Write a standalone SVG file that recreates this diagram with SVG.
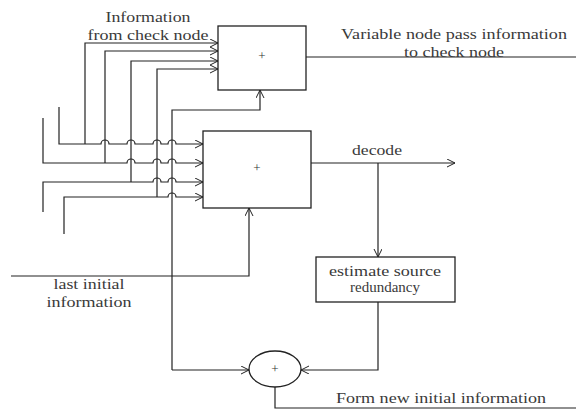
<svg xmlns="http://www.w3.org/2000/svg" width="576" height="412" viewBox="0 0 576 412">
<defs>
<marker id="arr" markerUnits="userSpaceOnUse" markerWidth="10" markerHeight="10" refX="8" refY="4" orient="auto">
<path d="M0,0 L8,4 L0,8" fill="none" stroke="#222" stroke-width="1"/>
</marker>
<style>
.ln{fill:none;stroke:#222;stroke-width:1.2}
.bx{fill:#fff;stroke:#222;stroke-width:1.3}
.t{font-size:14px;fill:#3a3a3a;text-anchor:middle}
.p{font-size:13px;fill:#333;text-anchor:middle}
</style>
</defs>
<rect width="576" height="412" fill="#fff"/>
<g id="connectors">
<path class="ln" d="M85 144 V43 H218" marker-end="url(#arr)"/>
<path class="ln" d="M105 163 V51 H218" marker-end="url(#arr)"/>
<path class="ln" d="M131 182 V61 H218" marker-end="url(#arr)"/>
<path class="ln" d="M157 197 V69 H218" marker-end="url(#arr)"/>
<path class="ln" d="M59 107 V144 H101 A4 4 0 0 1 109 144 H127 A4 4 0 0 1 135 144 H153 A4 4 0 0 1 161 144 H168 A4 4 0 0 1 176 144 H203" marker-end="url(#arr)"/>
<path class="ln" d="M43 118 V163 H127 A4 4 0 0 1 135 163 H153 A4 4 0 0 1 161 163 H168 A4 4 0 0 1 176 163 H203" marker-end="url(#arr)"/>
<path class="ln" d="M43 212 V182 H153 A4 4 0 0 1 161 182 H168 A4 4 0 0 1 176 182 H203" marker-end="url(#arr)"/>
<path class="ln" d="M64 234 V197 H168 A4 4 0 0 1 176 197 H203" marker-end="url(#arr)"/>
<path class="ln" d="M172 370 V110 H260 V90" marker-end="url(#arr)"/>
<path class="ln" d="M172 370 H249" marker-end="url(#arr)"/>
<path class="ln" d="M11 276 H249 V208" marker-end="url(#arr)"/>
<path class="ln" d="M306 57 H576"/>
<path class="ln" d="M311 163 H455" marker-end="url(#arr)"/>
<path class="ln" d="M378 163 V257" marker-end="url(#arr)"/>
<path class="ln" d="M378 302 V370 H301" marker-end="url(#arr)"/>
<path class="ln" d="M275 387 V408 H576"/>
</g>
<g id="top-box" font-family="Liberation Serif, serif">
<rect class="bx" x="218" y="26" width="88" height="64"/>
<text class="p" x="262" y="60">+</text>
</g>
<g id="bottom-box" font-family="Liberation Serif, serif">
<rect class="bx" x="203" y="131" width="108" height="77"/>
<text class="p" x="257" y="172">+</text>
</g>
<g id="estimate" font-family="Liberation Serif, serif">
<rect class="bx" x="316" y="257" width="139" height="45"/>
<text class="t" x="385" y="276" textLength="112" lengthAdjust="spacingAndGlyphs">estimate source</text>
<text class="t" x="385" y="292" textLength="70" lengthAdjust="spacingAndGlyphs">redundancy</text>
</g>
<g id="sum" font-family="Liberation Serif, serif">
<ellipse class="bx" cx="275" cy="369" rx="26" ry="18"/>
<text class="p" x="275" y="373">+</text>
</g>
<g id="labels" font-family="Liberation Serif, serif">
<text class="t" x="148" y="22" textLength="85" lengthAdjust="spacingAndGlyphs">Information</text>
<text class="t" x="148" y="40" textLength="121" lengthAdjust="spacingAndGlyphs">from check node</text>
<text class="t" x="454" y="39" textLength="226" lengthAdjust="spacingAndGlyphs">Variable node pass information</text>
<text class="t" x="454" y="57" textLength="100" lengthAdjust="spacingAndGlyphs">to check node</text>
<text class="t" x="377" y="155" textLength="50" lengthAdjust="spacingAndGlyphs">decode</text>
<text class="t" x="89" y="289" textLength="71" lengthAdjust="spacingAndGlyphs">last initial</text>
<text class="t" x="89" y="307" textLength="85" lengthAdjust="spacingAndGlyphs">information</text>
<text class="t" x="441" y="403" textLength="210" lengthAdjust="spacingAndGlyphs">Form new initial information</text>
</g>
</svg>
